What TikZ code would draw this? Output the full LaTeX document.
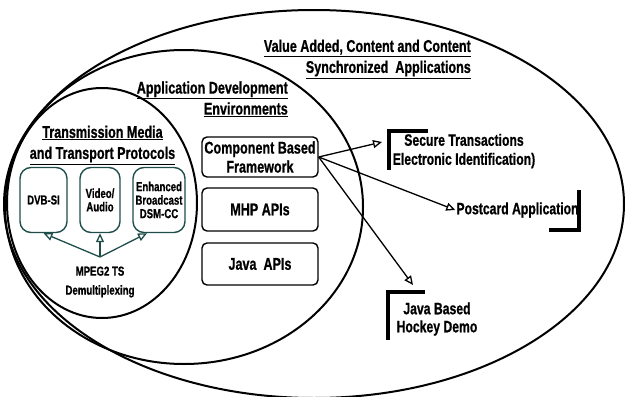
\documentclass[tikz,border=0pt]{standalone}
\usepackage{fontspec}
\setmainfont{Liberation Sans}[FakeStretch=0.74,BoldFeatures={FakeBold=0.8}]
\usetikzlibrary{arrows.meta,calc}
\definecolor{tealline}{HTML}{1F4E4A}
\begin{document}
\begin{tikzpicture}[x=1pt,y=-1pt,
  zone/.style={line width=2pt},
  heading/.style={font=\fontsize{17}{21}\selectfont\bfseries,inner sep=1pt},
  label/.style={font=\fontsize{16.5}{19}\selectfont\bfseries,align=center,inner sep=1pt},
  apibox/.style={draw,line width=1.4pt,rounded corners=5pt,minimum width=116pt,
    font=\fontsize{17}{19}\selectfont\bfseries,align=center,inner sep=1pt},
  mediabox/.style={draw=tealline,line width=1.4pt,rounded corners=11pt,minimum height=65pt,
    font=\fontsize{13}{13.5}\selectfont\bfseries,align=center,inner sep=1pt},
  openarrow/.style={line width=1.3pt,-{Triangle[open,length=9pt,width=8pt]}},
  bracket/.style={line width=3.5pt},
]
\useasboundingbox (0,0) rectangle (626,396);

% nested regions
\draw[zone] (314,204) ellipse [x radius=310, y radius=194];
\draw[zone] (184,207) ellipse [x radius=179, y radius=157];
\draw[zone] (102,203) ellipse [x radius=95, y radius=115];

% headings
\node[heading,align=right,anchor=east] (valtitle) at (472,59)
  {\underline{Value Added, Content and Content}\\\underline{Synchronized\ \ Applications}};
\node[heading,align=right,anchor=east] (devtitle) at (289,99)
  {\underline{Application Development}\\\underline{Environments}};
\node[heading,align=center] (mediatitle) at (102.5,145)
  {\underline{Transmission Media}\\\underline{and Transport Protocols}};

% transmission media
\node[mediabox,minimum width=47pt] (dvb) at (43.5,200) {DVB-SI};
\node[mediabox,minimum width=40pt] (av) at (100,200) {Video/\\Audio};
\node[mediabox,minimum width=52pt] (enh) at (159,200) {Enhanced\\Broadcast\\DSM-CC};
\coordinate (mpj) at (100,257);
\node[font=\fontsize{13}{19}\selectfont\bfseries,align=center,inner sep=1pt] (mpeg) at (100,282)
  {MPEG2 TS\\Demultiplexing};
\draw[openarrow,draw=tealline] (mpj) -- (dvb.south);
\draw[openarrow,draw=tealline] (mpj) -- (av.south);
\draw[openarrow,draw=tealline] (mpj) -- ([xshift=-12pt]enh.south);

% development environment
\node[apibox,minimum height=40pt] (comp) at (260,157) {Component Based\\Framework};
\node[apibox,minimum height=43pt] (mhp) at (260,209.5) {MHP APIs};
\node[apibox,minimum height=42pt] (java) at (260,264) {Java\ \ APIs};

% applications
\node[label] (secure) at (464,151) {Secure Transactions\\Electronic Identification)};
\node[label] (post) at (517.5,210) {Postcard Application};
\node[label,font=\fontsize{16.5}{18}\selectfont\bfseries] (hockey) at (437,319) {Java Based\\Hockey Demo};
\coordinate (secTip) at (382,142);
\coordinate (hockTip) at (413,285);

\draw[openarrow] (comp.east) -- (secTip);
\draw[openarrow] (comp.east) -- (post.west);
\draw[openarrow] (comp.east) -- (hockTip);

% corner brackets
\draw[bracket] (428,131) -- (389,131) -- (389,170);
\draw[bracket] (579,190) -- (579,230) -- (549,230);
\draw[bracket] (425,292) -- (388,292) -- (388,340);
\end{tikzpicture}
\end{document}
